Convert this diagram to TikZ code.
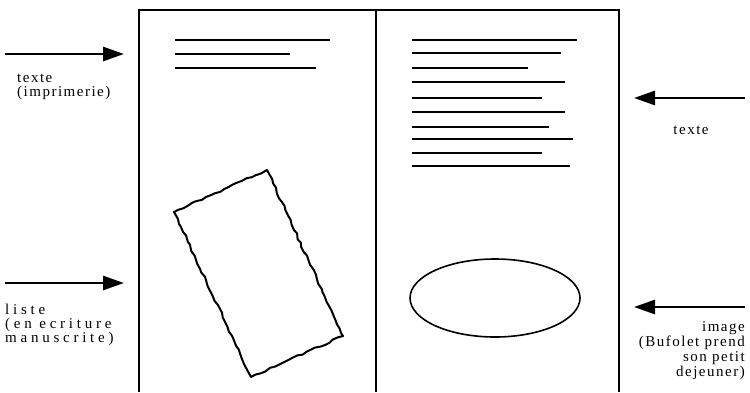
\documentclass[tikz,border=0pt]{standalone}
\usepackage{fontspec}
\setmainfont{Liberation Serif}
\usetikzlibrary{arrows.meta, positioning, decorations.pathmorphing}

\begin{document}
\begin{tikzpicture}[x=1pt, y=-1pt,
  pageline/.style={line width=2.4pt, black},
  printline/.style={line width=2.2pt, black},
  bigarrow/.style={line width=2.8pt, -{Triangle[length=21pt, width=14pt]}},
  caption/.style={inner sep=0pt, font=\fontsize{15}{14}\selectfont\addfontfeature{LetterSpace=10}},
  widecaption/.style={inner sep=0pt, font=\fontsize{15}{14}\selectfont\addfontfeature{LetterSpace=25}}
]
  \useasboundingbox (0,0) rectangle (750,392);

  % the open double page
  \draw[pageline] (139,392) -- (139,10) -- (619,10) -- (619,392);
  \draw[pageline] (376,10) -- (376,392);

  % left page: printed text
  \foreach \ly/\lend in {40/330, 54/290, 68/316}
    \draw[printline] (175,\ly) -- (\lend,\ly);

  % right page: printed text
  \foreach \ly/\lend in {40/577, 53/561, 68/528, 82/565, 98/542, 112/565, 127/549, 139/573, 153/542, 166/570}
    \draw[printline] (412,\ly) -- (\lend,\ly);

  % handwritten list (torn sheet)
  \pgfmathsetseed{7}
  \draw[line width=2pt, line join=round,
    decorate, decoration={random steps, segment length=5pt, amplitude=1pt}]
    (174,212) -- (267,170) -- (343,336) -- (251,377) -- cycle;

  % picture
  \draw[line width=1.6pt] (495,298) ellipse [x radius=85, y radius=39];

  % left side: arrows and labels
  \coordinate (printtail) at (5,54);
  \coordinate (printtip) at (124,54);
  \draw[bigarrow] (printtail) -- (printtip);
  \node[caption, anchor=north west, align=left] (printlab) at (17,74) {texte\\(imprimerie)};

  \coordinate (listtail) at (5,283);
  \coordinate (listtip) at (124,283);
  \draw[bigarrow] (listtail) -- (listtip);
  \node[widecaption, anchor=north west, align=left] (listlab) at (5,304) {liste\\(en ecriture\\manuscrite)};

  % right side: arrows and labels
  \coordinate (texttail) at (745,98);
  \coordinate (texttip) at (634,98);
  \draw[bigarrow] (texttail) -- (texttip);
  \node[caption] (textlab) at (691,130) {texte};

  \coordinate (imagetail) at (745,307);
  \coordinate (imagetip) at (634,307);
  \draw[bigarrow] (imagetail) -- (imagetip);
  \node[caption, anchor=north east, align=right, font=\fontsize{15}{15}\selectfont\addfontfeature{LetterSpace=10}]
    (imagelab) at (745,321) {image\\(Bufolet prend\\son petit\\dejeuner)};
\end{tikzpicture}
\end{document}
